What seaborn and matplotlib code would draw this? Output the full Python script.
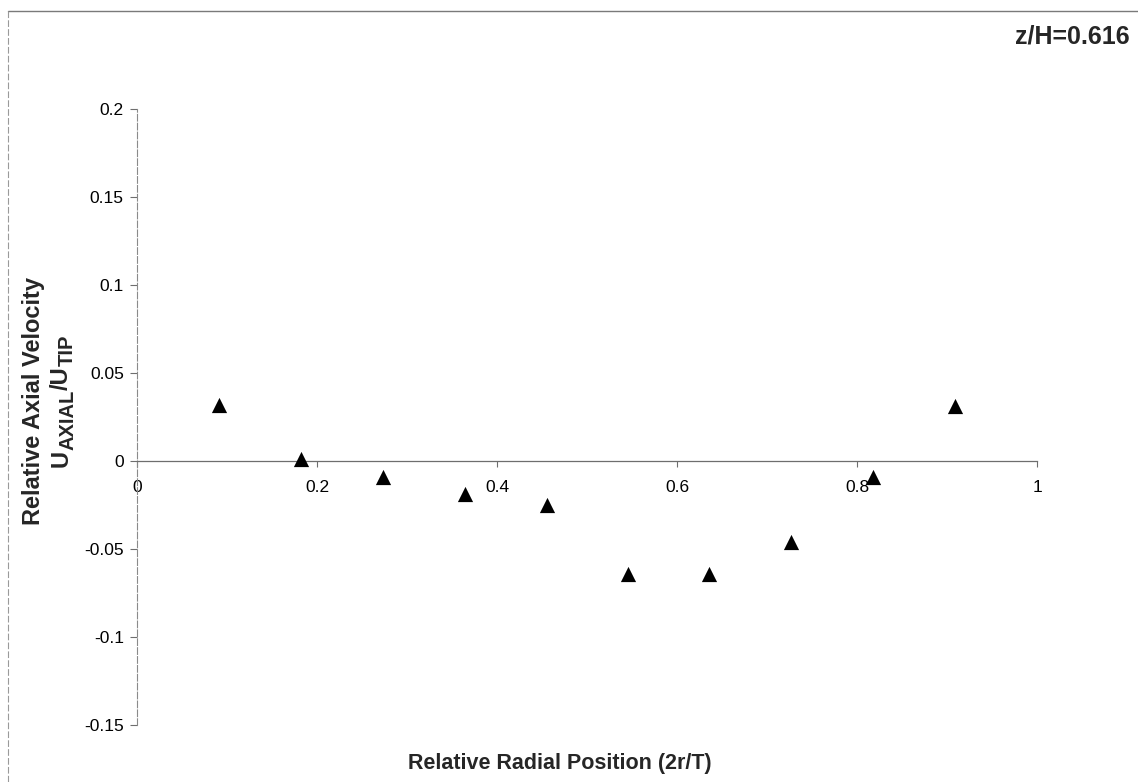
import matplotlib
matplotlib.use("Agg")
import matplotlib.pyplot as plt
import seaborn as sns
import pandas as pd
from matplotlib.lines import Line2D

# Radial traverse at z/H = 0.616
radial_pos = [0.091, 0.182, 0.273, 0.364, 0.455, 0.545, 0.636, 0.727, 0.818, 0.909]
axial_vel = [0.032, 0.001, -0.009, -0.019, -0.025, -0.064, -0.064, -0.046, -0.009, 0.031]

x_ticks = [0, 0.2, 0.4, 0.6, 0.8, 1.0]
x_tick_labels = ["0", "0.2", "0.4", "0.6", "0.8", "1"]
y_ticks = [0.2, 0.15, 0.1, 0.05, 0, -0.05, -0.1, -0.15]
y_tick_labels = ["0.2", "0.15", "0.1", "0.05", "0", "-0.05", "-0.1", "-0.15"]

sns.set_theme(style="white")
plt.rcParams["font.family"] = ["Liberation Sans", "DejaVu Sans"]

df = pd.DataFrame({"r": radial_pos, "u": axial_vel})

W, H = 1138, 782
fig = plt.figure(figsize=(W / 100, H / 100), dpi=100)
ax = fig.add_axes([137 / W, 1 - 725 / H, (1037 - 137) / W, (725 - 109) / H])

sns.scatterplot(data=df, x="r", y="u", marker="^", s=120, color="black",
                edgecolor="black", linewidth=0, ax=ax, zorder=3, clip_on=False)

ax.set_xlim(0, 1)
ax.set_ylim(-0.15, 0.2)
ax.set_xticks(x_ticks)
ax.set_xticklabels(x_tick_labels)
ax.set_yticks(y_ticks)
ax.set_yticklabels(y_tick_labels)

for s in ("top", "right"):
    ax.spines[s].set_visible(False)
ax.spines["bottom"].set_position(("data", 0))
ax.spines["bottom"].set_color("#6e6e6e")
ax.spines["bottom"].set_linewidth(0.9)
ax.spines["left"].set_color("#8a8a8a")
ax.spines["left"].set_linewidth(0.8)
ax.spines["left"].set_linestyle((0, (6, 2)))

ax.tick_params(axis="x", direction="out", length=4, width=0.8, color="#6e6e6e",
               pad=10, labelsize=12.5, labelcolor="black", bottom=True)
ax.tick_params(axis="y", direction="out", length=5, width=0.8, color="#6e6e6e",
               pad=4.5, labelsize=12.5, labelcolor="black", left=True)
ax.set_xlabel("")
ax.set_ylabel("")
ax.grid(False)

# X axis title
fig.text(560 / W, 1 - 764 / H, "Relative Radial Position (2r/T)", ha="center",
         va="center", fontsize=15.5, fontweight="bold")

# Y axis title, first line
label_center = H - 401
fig.text(40 / W, label_center / H, "Relative Axial Velocity", ha="center",
         va="baseline", rotation=90, rotation_mode="anchor", fontsize=17,
         fontweight="bold")

# Y axis title, second line: U_AXIAL / U_TIP built from pieces so the
# subscripts keep a near-full size
pieces = [("U", 17, 0), ("AXIAL", 14.5, 5), ("/U", 17, 0), ("TIP", 14.5, 5)]
renderer = fig.canvas.get_renderer()
lengths = []
for txt, size, _ in pieces:
    probe = fig.text(0, 0, txt, fontsize=size, fontweight="bold", rotation=90,
                     rotation_mode="anchor")
    lengths.append(probe.get_window_extent(renderer).height)
    probe.remove()
y_px = label_center - sum(lengths) / 2
base_x = 68
for (txt, size, dx), ln in zip(pieces, lengths):
    fig.text((base_x + dx) / W, y_px / H, txt, fontsize=size, fontweight="bold",
             rotation=90, rotation_mode="anchor", ha="left", va="baseline")
    y_px += ln

# Height label
fig.text(1130 / W, 1 - 37 / H, "z/H=0.616", ha="right", va="center",
         fontsize=18, fontweight="bold")

# Outer frame (top and left edges)
fig.add_artist(Line2D([8 / W, 1.0], [1 - 11 / H, 1 - 11 / H], color="#7a7a7a",
                      linewidth=1.0, transform=fig.transFigure))
fig.add_artist(Line2D([8 / W, 8 / W], [0, 1 - 11 / H], color="#9a9a9a",
                      linewidth=0.8, linestyle=(0, (6, 2)), transform=fig.transFigure))

fig.savefig("out.png", dpi=100, facecolor="white")
